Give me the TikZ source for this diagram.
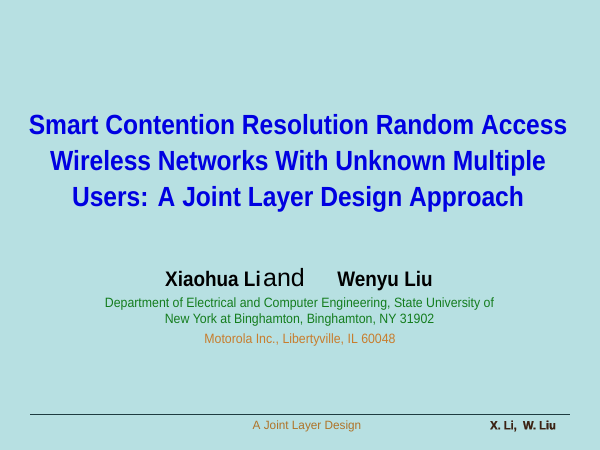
\documentclass[tikz,border=0pt]{standalone}
\usepackage{fontspec}
\setmainfont{Liberation Sans}
\newfontfamily\titlefont[FakeStretch=0.888]{Liberation Sans}
\newfontfamily\authfont[FakeStretch=0.9]{Liberation Sans}
\newfontfamily\deptfont[FakeStretch=0.913]{Liberation Sans}
\newfontfamily\footfont[FakeStretch=0.98]{Liberation Sans}
\newfontfamily\markfont[FakeStretch=0.93,FakeBold=1.2]{Liberation Sans}
\definecolor{bgc}{RGB}{183,224,226}
\definecolor{titlec}{RGB}{0,0,225}
\definecolor{deptc}{RGB}{20,125,30}
\definecolor{motoc}{RGB}{200,125,45}
\definecolor{footc}{RGB}{175,115,40}
\definecolor{markc}{RGB}{60,35,20}
\definecolor{rulec}{RGB}{30,60,65}
\tikzset{txt/.style={inner sep=0pt,anchor=center,align=center},
  basetxt/.style={inner sep=0pt,anchor=base}}
\begin{document}
\begin{tikzpicture}[x=1pt,y=-1pt]
\useasboundingbox (0,0) rectangle (600,450);
\fill[bgc] (0,0) rectangle (600,450);
\node[txt,text=titlec,font=\titlefont\bfseries\fontsize{27.7}{36.2}\selectfont] (title) at (298,163.5) {Smart Contention Resolution Random Access\\Wireless Networks With Unknown Multiple\\Users: A Joint Layer Design Approach};
\node[basetxt,font=\authfont\bfseries\fontsize{21}{22}\selectfont] (a1) at (213,286) {Xiaohua Li};
\node[basetxt,font=\fontsize{25}{26}\selectfont] (and) at (284,286) {and};
\node[basetxt,font=\authfont\bfseries\fontsize{21}{22}\selectfont] (a2) at (385,286) {Wenyu Liu};
\node[txt,text=deptc,font=\deptfont\fontsize{13.5}{16}\selectfont] (dept) at (299.5,312.5) {Department of Electrical and Computer Engineering, State University of\\New York at Binghamton, Binghamton, NY 31902};
\node[txt,text=motoc,font=\deptfont\fontsize{13.5}{16}\selectfont] (moto) at (300,340.5) {Motorola Inc., Libertyville, IL 60048};
\draw[rulec,line width=0.9pt] (30,414.5) -- (570,414.5);
\node[txt,text=footc,font=\footfont\fontsize{12}{14}\selectfont] (foot) at (307,426) {A Joint Layer Design};
\node[txt,text=markc,font=\markfont\bfseries\fontsize{12}{14}\selectfont] (auth) at (523,426) {X. Li,\ \ W. Liu};
\end{tikzpicture}
\end{document}
